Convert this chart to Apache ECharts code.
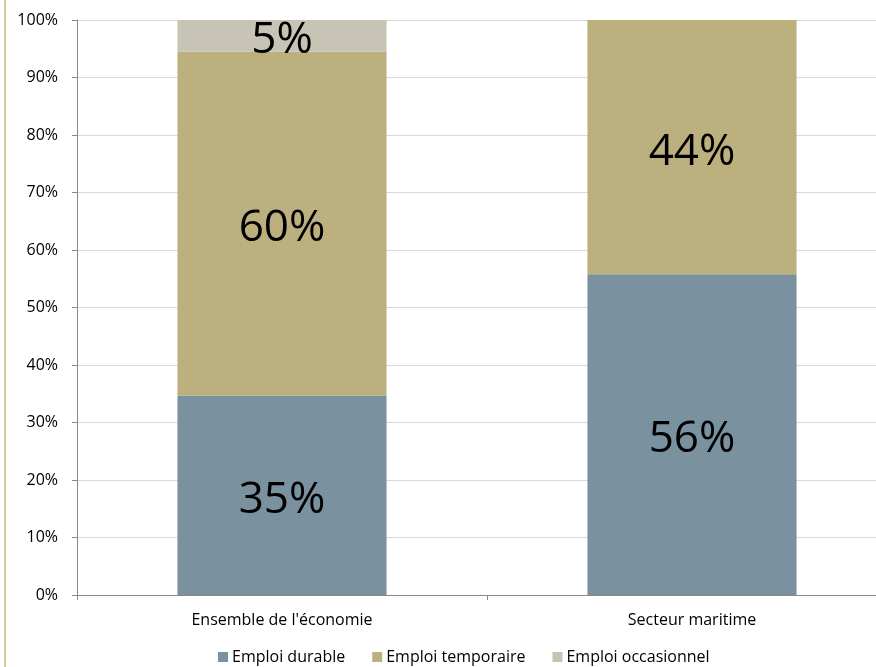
<!DOCTYPE html>
<html><head><meta charset="utf-8">
<script src="https://cdn.jsdelivr.net/npm/echarts@6/dist/echarts.min.js"></script>
<style>html,body{margin:0;padding:0;background:#fff;overflow:hidden;width:876px;height:667px}#c{width:897px;height:667px}</style>
</head><body><div id="c"></div>
<script>
var categories = ["Ensemble de l'économie", "Secteur maritime"];
var durable = [34.7, 55.8];
var temporaire = [59.8, 44.2];
var occasionnel = [5.5, 0];
var durableLabels = ["35%", "56%"];
var temporaireLabels = ["60%", "44%"];
var occasionnelLabels = ["5%", ""];
var yTicks = [0, 10, 20, 30, 40, 50, 60, 70, 80, 90, 100];

var font = "'Open Sans', 'Noto Sans', sans-serif";
function mk(name, data, labels, color) {
  return {
    name: name, type: 'bar', stack: 'a', barWidth: '51%',
    data: data, itemStyle: {color: color},
    label: {show: true, position: 'inside', fontSize: 44, color: '#000', fontFamily: font,
      offset: [0, 5],
      formatter: function (p) { return labels[p.dataIndex]; }},
    emphasis: {disabled: true}
  };
}
var chart = echarts.init(document.getElementById('c'));
chart.setOption({
  animation: false,
  grid: {left: 77, right: 0, top: 20, bottom: 72, containLabel: false},
  legend: {bottom: -3, left: 213, itemWidth: 10, itemHeight: 10, itemGap: 27,
    icon: 'rect', textStyle: {fontSize: 16, color: '#000', fontFamily: font, padding: [0, 0, 0, -1]},
    data: ['Emploi durable', 'Emploi temporaire', 'Emploi occasionnel']},
  xAxis: {type: 'category', data: categories,
    axisLine: {lineStyle: {color: '#888'}},
    axisTick: {show: true, alignWithLabel: false, length: 5, lineStyle: {color: '#888'}},
    axisLabel: {fontSize: 16, color: '#000', fontFamily: font, margin: 17}},
  yAxis: {type: 'value', min: yTicks[0], max: yTicks[yTicks.length - 1], interval: 10,
    axisLine: {show: true, lineStyle: {color: '#888'}},
    axisTick: {show: true, length: 5, lineStyle: {color: '#888'}},
    splitLine: {lineStyle: {color: '#d9d9d9'}},
    axisLabel: {fontSize: 16, color: '#000', fontFamily: font, margin: 19,
      formatter: function (v) { return v + '%'; }}},
  graphic: [{type: 'line', shape: {x1: 5, y1: 0, x2: 5, y2: 667},
    style: {stroke: '#c8b87a', lineWidth: 1.5}}],
  series: [
    mk('Emploi durable', durable, durableLabels, '#7a91a0'),
    mk('Emploi temporaire', temporaire, temporaireLabels, '#bdb07f'),
    mk('Emploi occasionnel', occasionnel, occasionnelLabels, '#c8c4b5')
  ]
});
</script></body></html>
